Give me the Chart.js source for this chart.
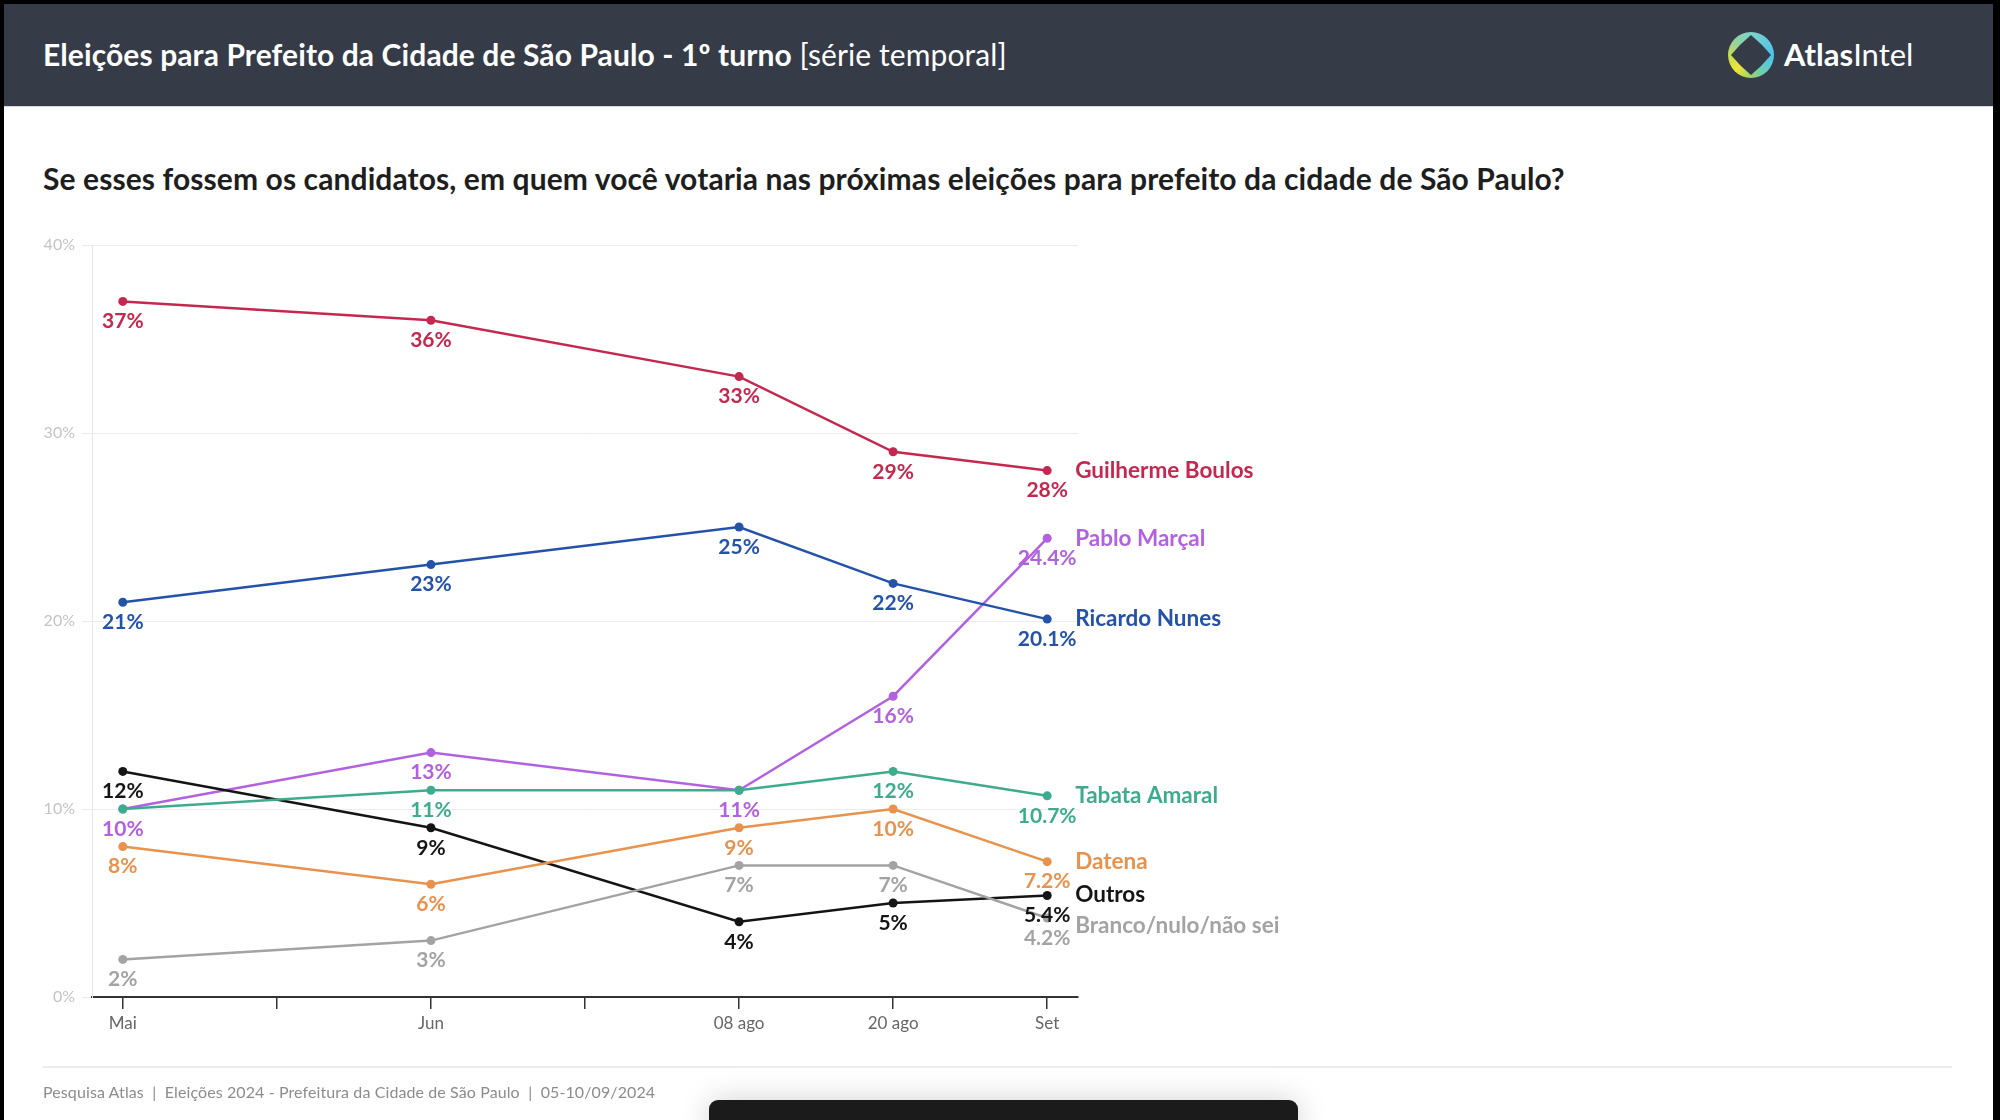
<!DOCTYPE html>
<html>
<head>
<meta charset="utf-8">
<script src="https://cdn.jsdelivr.net/npm/chart.js@4"></script>
<style>
  html, body { margin: 0; padding: 0; background: #000; }
  #page { position: relative; width: 2000px; height: 1120px; overflow: hidden; background: #000; font-family: Lato, 'Open Sans', sans-serif; }
  #sheet { position: absolute; left: 4px; top: 4px; width: 1989px; height: 1116px; background: #fff; }
  #header { position: absolute; left: 4px; top: 4px; width: 1989px; height: 102px; background: #353b47; border-bottom: 1px solid #d8d8d8; }
  #title { position: absolute; left: 39px; top: 32px; color: #fff; font-size: 30px; white-space: nowrap; letter-spacing: 0.1px; }
  #title b { font-weight: 700; }
  #logo { position: absolute; left: 1724px; top: 28px; width: 46px; height: 46px; border-radius: 50%;
    background: conic-gradient(from 0deg, #7fd3c9, #4cc4ee 90deg, #6fcfb0 150deg, #9ad36a 180deg, #f0e637 225deg, #c2dc55 270deg, #8fd3a6 315deg, #7fd3c9 360deg); }
  #logo svg { position: absolute; left: 0; top: 0; }
  #brand { position: absolute; left: 1780px; top: 31px; color: #fff; font-size: 31px; white-space: nowrap; }
  #question { position: absolute; left: 43px; top: 160px; color: #1e1e1e; font-size: 30px; font-weight: 700; white-space: nowrap; letter-spacing: 0.1px; }
  #rule { position: absolute; left: 43px; top: 1066px; width: 1909px; height: 2px; background: #ececec; }
  #source { position: absolute; left: 43px; top: 1082px; color: #8c8c8c; font-size: 16px; white-space: nowrap; letter-spacing: 0.1px; }
  #bar { position: absolute; left: 709px; top: 1100px; width: 589px; height: 40px; background: #1b1b1b; border-radius: 9px; box-shadow: 0 0 30px rgba(0,0,0,0.18); }
  #chart { position: absolute; left: 0; top: 0; }
</style>
</head>
<body>
<div id="page">
  <div id="sheet"></div>
  <div id="header">
    <div id="title"><b>Eleições para Prefeito da Cidade de São Paulo - 1º turno</b> [série temporal]</div>
    <div id="logo">
      <svg width="46" height="46" viewBox="-23 -23 46 46">
        <path d="M0,-20 Q11,-11 20,0 Q11,11 0,20 Q-11,11 -20,0 Q-11,-11 0,-20 Z" fill="#353b47"/>
      </svg>
    </div>
    <div id="brand"><b>Atlas</b>Intel</div>
  </div>
  <div id="question">Se esses fossem os candidatos, em quem você votaria nas próximas eleições para prefeito da cidade de São Paulo?</div>
  <canvas id="chart" width="2000" height="1120"></canvas>
  <div id="rule"></div>
  <div id="source">Pesquisa Atlas&nbsp; |&nbsp; Eleições 2024 - Prefeitura da Cidade de São Paulo&nbsp; |&nbsp; 05-10/09/2024</div>
  <div id="bar"></div>
</div>
<script>
// Axis labels (one slot per month, unlabelled slots between polls)
const xLabels = ['Mai', '', 'Jun', '', '08 ago', '20 ago', 'Set'];
// Which slot each poll falls on
const pollSlots = [0, 2, 4, 5, 6];

// Vote intention per poll, in %
const boulos = [37, 36, 33, 29, 28];
const nunes = [21, 23, 25, 22, 20.1];
const marcal = [10, 13, 11, 16, 24.4];
const tabata = [10, 11, 11, 12, 10.7];
const datena = [8, 6, 9, 10, 7.2];
const outros = [12, 9, 4, 5, 5.4];
const branco = [2, 3, 7, 7, 4.2];

const yTicks = [0, 10, 20, 30, 40];

function toPoints(values) {
  return values.map((v, i) => ({ x: pollSlots[i], y: v }));
}

function makeSeries(name, values, color, extra) {
  return Object.assign({
    label: name,
    data: toPoints(values),
    borderColor: color,
    backgroundColor: color,
    borderWidth: 2.5,
    pointRadius: 4.5,
    pointBorderWidth: 0,
    tension: 0,
    hideValues: [],
    nameShift: 0
  }, extra || {});
}

const datasets = [
  makeSeries('Branco/nulo/não sei', branco, '#a3a3a3', { nameShift: 8 }),
  makeSeries('Datena', datena, '#e8924c'),
  makeSeries('Tabata Amaral', tabata, '#3fab8e', { hideValues: [0, 2] }),
  makeSeries('Outros', outros, '#141414', { nameShift: -1 }),
  makeSeries('Ricardo Nunes', nunes, '#2452a8'),
  makeSeries('Pablo Marçal', marcal, '#b262e0'),
  makeSeries('Guilherme Boulos', boulos, '#c5284f')
];

// Value labels under each point and the series name after the last point
const pointLabels = {
  id: 'pointLabels',
  afterDatasetsDraw(chart) {
    const ctx = chart.ctx;
    ctx.save();
    chart.data.datasets.forEach((ds, di) => {
      const meta = chart.getDatasetMeta(di);
      ctx.fillStyle = ds.borderColor;
      ctx.textAlign = 'center';
      ctx.textBaseline = 'middle';
      ctx.font = 'bold 21px Lato';
      meta.data.forEach((pt, i) => {
        if (ds.hideValues.includes(i)) return;
        ctx.fillText(ds.data[i].y + '%', pt.x, pt.y + 20);
      });
      const last = meta.data[meta.data.length - 1];
      ctx.textAlign = 'left';
      ctx.font = 'bold 22.5px Lato';
      ctx.fillText(ds.label, last.x + 28, last.y + ds.nameShift);
    });
    ctx.restore();
  }
};

new Chart(document.getElementById('chart'), {
  type: 'line',
  data: { datasets: datasets },
  options: {
    responsive: false,
    animation: false,
    devicePixelRatio: 1,
    layout: { padding: { top: 245, right: 922, left: 0, bottom: 0 } },
    plugins: { legend: { display: false }, tooltip: { enabled: false } },
    scales: {
      x: {
        type: 'linear',
        min: -0.2,
        max: 6.2,
        afterFit: (s) => { s.height = 123; },
        afterBuildTicks: (s) => { s.ticks = xLabels.map((_, i) => ({ value: i })); },
        grid: { drawOnChartArea: false, drawTicks: true, tickLength: 12, color: '#333', lineWidth: 1.5 },
        border: { color: '#333', width: 2 },
        ticks: {
          color: '#666',
          font: { family: 'Lato', size: 17 },
          padding: 4,
          maxRotation: 0,
          callback: (v) => xLabels[v] || ''
        }
      },
      y: {
        min: 0,
        max: 40,
        afterFit: (s) => { s.width = 92; },
        afterBuildTicks: (s) => { s.ticks = yTicks.map(v => ({ value: v })); },
        grid: { color: '#ececec', tickLength: 10, lineWidth: 1 },
        border: { color: '#e6e6e6', width: 1 },
        ticks: {
          color: '#c4c4c4',
          font: { family: 'Lato', size: 16 },
          padding: 7,
          callback: (v) => v + '%'
        }
      }
    }
  },
  plugins: [pointLabels]
});
</script>
</body>
</html>
